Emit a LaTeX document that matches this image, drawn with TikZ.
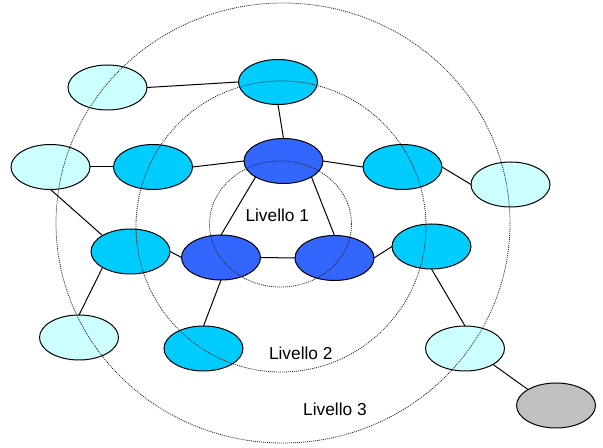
\documentclass[tikz,border=0pt]{standalone}
\usepackage{fontspec}
\setmainfont{Liberation Sans}
\usepackage{xcolor}
\usepackage{tikz}
\usetikzlibrary{
  shapes.geometric
}
\definecolor{blu}{HTML}{3366FF}
\definecolor{azzurro}{HTML}{00CCFF}
\definecolor{celeste}{HTML}{CCFFFF}
\definecolor{grigio}{HTML}{C0C0C0}

\begin{document}
\begin{tikzpicture}[x=0.75pt,y=-0.75pt,
  nodo/.style={ellipse,draw=black,line width=0.75pt,inner sep=0pt,outer sep=0pt,
    minimum width=59.25pt,minimum height=33.75pt},
  arco/.style={draw=black,line width=0.75pt},
  livello/.style={draw=black!85,line width=0.6pt,dash pattern=on 0.75pt off 0.75pt},
  etichetta/.style={inner sep=0pt,font=\fontsize{13}{15}\selectfont}]
  \useasboundingbox (0,0) rectangle (603,448);

  \node[nodo,fill=blu] (1) at (283.5,161) {};
  \node[nodo,fill=blu] (2) at (221,257.5) {};
  \node[nodo,fill=blu] (3) at (334.5,258) {};

  \node[nodo,fill=azzurro] (4) at (278,82) {};
  \node[nodo,fill=azzurro] (5) at (153,167) {};
  \node[nodo,fill=azzurro] (6) at (402.5,167) {};
  \node[nodo,fill=azzurro] (7) at (130.5,251.5) {};
  \node[nodo,fill=azzurro] (8) at (431.5,246.5) {};
  \node[nodo,fill=azzurro] (9) at (203.5,348.5) {};

  \node[nodo,fill=celeste] (10) at (107.5,87.5) {};
  \node[nodo,fill=celeste] (11) at (50.5,167) {};
  \node[nodo,fill=celeste] (12) at (510.5,184.5) {};
  \node[nodo,fill=celeste] (13) at (79,337.5) {};
  \node[nodo,fill=celeste] (14) at (465,348.5) {};

  \node[nodo,fill=grigio] (15) at (556,405.5) {};

  \draw[arco] (10.east) -- (4.west);
  \draw[arco] (4.south) -- (1.north);
  \draw[arco] (11.east) -- (5.west);
  \draw[arco] (5.east) -- (1.west);
  \draw[arco] (1.east) -- (6.west);
  \draw[arco] (6.east) -- (12.west);
  \draw[arco] (11.south) -- (7.north west);
  \draw[arco] (1.south west) -- (2.north);
  \draw[arco] (1.south east) -- (3.north);
  \draw[arco] (7.east) -- (2.west);
  \draw[arco] (2.east) -- (3.west);
  \draw[arco] (3.east) -- (8.west);
  \draw[arco] (7.south west) -- (13.north);
  \draw[arco] (2.south) -- (9.north);
  \draw[arco] (8.south) -- (14.north);
  \draw[arco] (14.south east) -- (15.north west);

  \draw[livello] (280.5,224) ellipse (71 and 63);
  \draw[livello] (281,226.5) ellipse (145 and 145.5);
  \draw[livello] (283,223) ellipse (227 and 220);

  \node[etichetta] (L1) at (277.3,215.3) {Livello 1};
  \node[etichetta] (L2) at (300.8,353) {Livello 2};
  \node[etichetta] (L3) at (335,409) {Livello 3};
\end{tikzpicture}
\end{document}
